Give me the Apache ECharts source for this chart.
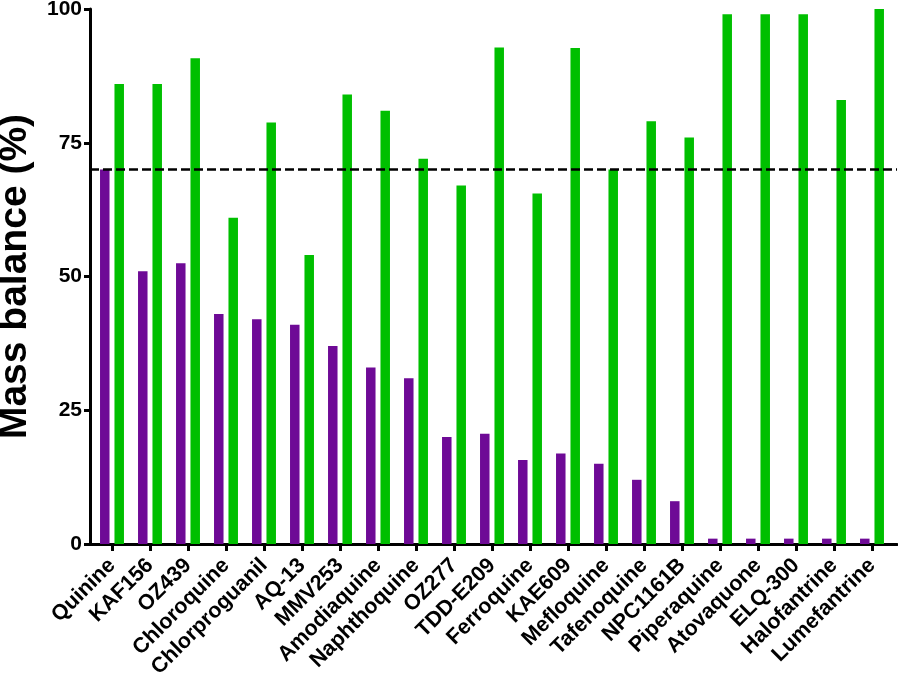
<!DOCTYPE html>
<html>
<head>
<meta charset="utf-8">
<script src="https://cdn.jsdelivr.net/npm/echarts@6/dist/echarts.min.js"></script>
<style>html,body{margin:0;padding:0;background:#fff;}#c{width:898px;height:674px;}</style>
</head>
<body>
<div id="c"></div>
<script>
var categories = ["Quinine","KAF156","OZ439","Chloroquine","Chlorproguanil","AQ-13","MMV253","Amodiaquine","Naphthoquine","OZ277","TDD-E209","Ferroquine","KAE609","Mefloquine","Tafenoquine","NPC1161B","Piperaquine","Atovaquone","ELQ-300","Halofantrine","Lumefantrine"];
var purpleValues = [70, 51, 52.5, 43, 42, 41, 37, 33, 31, 20, 20.6, 15.7, 16.9, 15, 12, 8, 1, 1, 1, 1, 1];
var greenValues = [86, 86, 90.8, 61, 78.8, 54, 84, 81, 72, 67, 92.8, 65.5, 92.7, 70, 79, 76, 99, 99, 99, 83, 100];
var threshold = 70;
var yTicks = [0, 25, 50, 75, 100];
var yTitle = "Mass balance (%)";

var FONT = "Liberation Sans";
var chart = echarts.init(document.getElementById('c'), null, {renderer: 'canvas'});
chart.setOption({
  animation: false,
  backgroundColor: '#ffffff',
  grid: [
    {left: 93, right: 7, top: 9, bottom: 130, containLabel: false, outerBoundsMode: 'none'},
    {left: 90, right: 1, top: 9, bottom: 130, containLabel: false, outerBoundsMode: 'none'}
  ],
  xAxis: [
    {
      type: 'category', gridIndex: 0, data: categories,
      boundaryGap: true,
      axisLine: {show: false},
      axisTick: {show: true, alignWithLabel: true, length: 7, lineStyle: {color: '#000', width: 3}},
      axisLabel: {rotate: 45, margin: 18, padding: [14, 0, 0, 0], color: '#000', fontFamily: FONT, fontWeight: 'bold', fontSize: 21.5, interval: 0},
      splitLine: {show: false}
    },
    {
      type: 'value', gridIndex: 1, min: 0, max: 1,
      axisLine: {show: true, onZero: false, lineStyle: {color: '#000', width: 3}},
      axisTick: {show: false}, axisLabel: {show: false}, splitLine: {show: false}
    }
  ],
  yAxis: [
    {
      type: 'value', gridIndex: 0, min: yTicks[0], max: yTicks[yTicks.length - 1], interval: 25,
      show: false, splitLine: {show: false}
    },
    {
      type: 'value', gridIndex: 1, min: yTicks[0], max: yTicks[yTicks.length - 1], interval: 25,
      name: yTitle, nameLocation: 'middle', nameGap: 55, nameRotate: 90,
      nameTextStyle: {color: '#000', fontFamily: FONT, fontWeight: 'bold', fontSize: 39},
      axisLine: {show: true, onZero: false, lineStyle: {color: '#000', width: 3}},
      axisTick: {show: true, length: 6, lineStyle: {color: '#000', width: 3}},
      axisLabel: {margin: 8, color: '#000', fontFamily: FONT, fontWeight: 'bold', fontSize: 21},
      splitLine: {show: false}
    }
  ],
  series: [
    {
      type: 'bar', xAxisIndex: 0, yAxisIndex: 0, data: purpleValues,
      barWidth: 9.5, barGap: '52%',
      itemStyle: {color: '#6E0A96'}, z: 2
    },
    {
      type: 'bar', xAxisIndex: 0, yAxisIndex: 0, data: greenValues,
      barWidth: 9.5, barGap: '52%',
      itemStyle: {color: '#00BF00'}, z: 2
    },
    {
      type: 'line', xAxisIndex: 1, yAxisIndex: 1,
      data: [[0, threshold], [1, threshold]],
      symbol: 'none', silent: true,
      lineStyle: {color: '#000', width: 2.5, type: [9, 4]}, z: 10
    }
  ]
});
</script>
</body>
</html>
